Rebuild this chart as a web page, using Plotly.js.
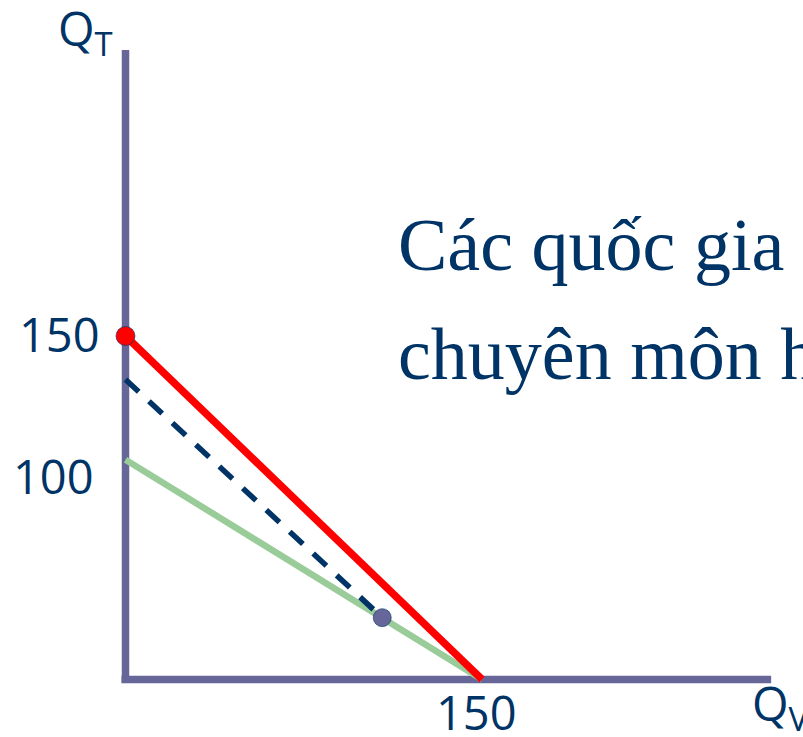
<!DOCTYPE html>
<html>
<head>
<meta charset="utf-8">
<script src="https://cdn.plot.ly/plotly-3.0.1.min.js"></script>
<style>html,body{margin:0;padding:0;overflow:hidden;background:#fff;}#chart{width:803px;height:737px;}</style>
</head>
<body>
<div id="chart"></div>
<script>
// ---- data ----
const redX = [0, 150];
const redY = [150, 0];
const greenX = [0, 150];
const greenY = [96, 0];
const dashX = [0, 108];
const dashY = [131, 27];
const redDotX = [0];
const redDotY = [150];
const purpleDotX = [108];
const purpleDotY = [27];
const yTickText = ['150', '100'];
const xTickText = ['150'];
const yAxisTitle = 'Q<sub>T</sub>';
const xAxisTitle = 'Q<sub>V</sub>';
const noteLines = ['Các quốc gia', 'chuyên môn hóa'];

// ---- layout helpers ----
const W = 803, H = 737;
const px = v => v / W;
const py = v => 1 - v / H;
const navy = '#003366';
const axisCol = '#666699';
const sans = 'Open Sans, Noto Sans, sans-serif';
const serif = 'Liberation Serif, Times New Roman, serif';

const traces = [
  {x: greenX, y: greenY, mode: 'lines', line: {color: '#99CC99', width: 6.5}, hoverinfo: 'skip'},
  {x: dashX, y: dashY, mode: 'lines', line: {color: navy, width: 5.5, dash: '18px,14px'}, hoverinfo: 'skip'},
  {x: redX, y: redY, mode: 'lines', line: {color: '#FF0000', width: 7.5}, hoverinfo: 'skip'},
  {x: redDotX, y: redDotY, mode: 'markers', marker: {color: '#FF0000', size: 19, line: {color: 'rgba(0,51,102,0.6)', width: 1}}, hoverinfo: 'skip'},
  {x: purpleDotX, y: purpleDotY, mode: 'markers', marker: {color: axisCol, size: 18, line: {color: 'rgba(0,51,102,0.6)', width: 1}}, hoverinfo: 'skip'}
];

const layout = {
  width: W, height: H,
  margin: {l: 0, r: 0, t: 0, b: 0},
  paper_bgcolor: '#fff', plot_bgcolor: '#fff',
  showlegend: false,
  xaxis: {range: [-52.8, 285.0], visible: false, fixedrange: true},
  yaxis: {range: [-25.1, 296.7], visible: false, fixedrange: true},
  shapes: [
    {type: 'line', xref: 'x', yref: 'y', x0: 0, x1: 0, y0: -1.5, y1: 274.9, line: {color: axisCol, width: 7.5}, layer: 'below'},
    {type: 'line', xref: 'x', yref: 'y', x0: -1.7, x1: 271.6, y0: 0, y1: 0, line: {color: axisCol, width: 7.5}, layer: 'below'}
  ],
  annotations: [
    {xref: 'paper', yref: 'paper', x: px(59.5), y: py(334), text: yTickText[0], showarrow: false, xanchor: 'center', yanchor: 'middle', font: {family: sans, size: 47, color: navy}},
    {xref: 'paper', yref: 'paper', x: px(53.5), y: py(476), text: yTickText[1], showarrow: false, xanchor: 'center', yanchor: 'middle', font: {family: sans, size: 47, color: navy}},
    {xref: 'paper', yref: 'paper', x: px(476), y: py(712), text: xTickText[0], showarrow: false, xanchor: 'center', yanchor: 'middle', font: {family: sans, size: 47, color: navy}},
    {xref: 'paper', yref: 'paper', x: px(56), y: py(31), text: yAxisTitle, showarrow: false, xanchor: 'left', yanchor: 'middle', font: {family: sans, size: 47, color: navy}},
    {xref: 'paper', yref: 'paper', x: px(750), y: py(706), text: xAxisTitle, showarrow: false, xanchor: 'left', yanchor: 'middle', font: {family: sans, size: 47, color: navy}},
    {xref: 'paper', yref: 'paper', x: px(396), y: py(245), text: noteLines[0], showarrow: false, xanchor: 'left', yanchor: 'middle', font: {family: serif, size: 74, color: navy}},
    {xref: 'paper', yref: 'paper', x: px(396), y: py(354), text: noteLines[1], showarrow: false, xanchor: 'left', yanchor: 'middle', font: {family: serif, size: 74, color: navy}}
  ]
};

Plotly.newPlot('chart', traces, layout, {staticPlot: true, displayModeBar: false});
</script>
</body>
</html>
